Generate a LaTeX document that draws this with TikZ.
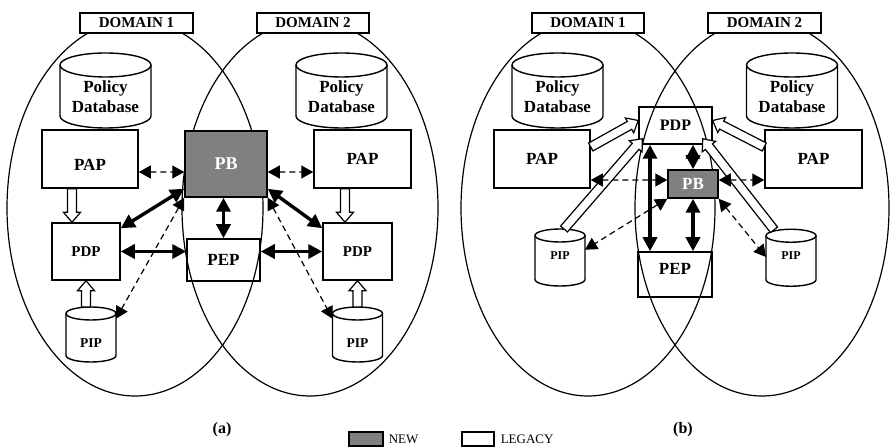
\documentclass[tikz,border=0pt]{standalone}
\usepackage{fontspec}
\setmainfont{Liberation Serif}
\usetikzlibrary{arrows.meta,calc,positioning}
\definecolor{pbgray}{RGB}{128,128,128}

% hollow (outlined) arrow from #1 to #2
\newcommand\hollowarrow[2]{%
  \coordinate (ha-s) at (#1);
  \coordinate (ha-e) at (#2);
  \coordinate (ha-n) at ($(ha-e)!10bp!(ha-s)$);
  \filldraw[hollowline] ($(ha-s)!4.5bp!90:(ha-e)$) -- ($(ha-n)!4.5bp!90:(ha-e)$)
    -- ($(ha-n)!8.5bp!90:(ha-e)$) -- (ha-e) -- ($(ha-n)!8.5bp!-90:(ha-e)$)
    -- ($(ha-n)!4.5bp!-90:(ha-e)$) -- ($(ha-s)!4.5bp!-90:(ha-e)$) -- cycle;
}
% cylinder drawn round a node: #1 node, #2 x radius, #3 y radius
\newcommand\drum[3]{%
  \draw[drumline] (#1.north west) -- ($(#1.south west)+(0,#3)$)
    arc[start angle=180,end angle=360,x radius=#2,y radius=#3]
    -- (#1.north east);
  \draw[drumline] (#1.north) ellipse [x radius=#2,y radius=#3];
}

\begin{document}
\begin{tikzpicture}[>={Triangle[length=14bp,width=14bp]},line join=miter,
  box/.style={draw,line width=1.5bp,inner sep=0pt,font=\bfseries\fontsize{17bp}{20bp}\selectfont},
  drumbox/.style={inner sep=0pt,outer sep=0pt,align=center,font=\bfseries\fontsize{17bp}{20bp}\selectfont},
  drumline/.style={line width=1.4bp},
  domline/.style={line width=1.2bp},
  domainbox/.style={draw,fill=white,line width=1.5bp,inner sep=0pt,minimum height=20bp,font=\bfseries\fontsize{15bp}{18bp}\selectfont},
  newbox/.style={box,fill=pbgray,text=white},
  hollowline/.style={line width=1.2bp,fill=white},
  thicklink/.style={line width=3.4bp,<->},
  dashlink/.style={line width=1.2bp,dash pattern=on 6bp off 4bp,<->,>={Triangle[length=12bp,width=13bp]}},
  keybox/.style={draw,line width=1.2bp,minimum width=33bp,minimum height=14bp,inner sep=0pt},
  keytext/.style={inner sep=0pt,font=\fontsize{13bp}{15bp}\selectfont},
  caption/.style={font=\bfseries\fontsize{16bp}{19bp}\selectfont},
]
\useasboundingbox (0bp,0bp) rectangle (890bp,448bp);
%%
%% (a)
  \draw[domline] (135bp,240bp) ellipse [x radius=128bp,y radius=188bp];
  \draw[domline] (310bp,240bp) ellipse [x radius=128bp,y radius=188bp];
  \node (domA1) at (136.5bp,425bp) [domainbox,minimum width=113bp] {DOMAIN 1};
  \node (domA2) at (313bp,425bp) [domainbox,minimum width=112bp] {DOMAIN 2};
  \node (polA1) at (105.5bp,351.5bp) [drumbox,minimum width=91bp,minimum height=63bp] {Policy\\Database};
  \node (polA2) at (341.5bp,351.5bp) [drumbox,minimum width=91bp,minimum height=63bp] {Policy\\Database};
  \drum{polA1}{45.5bp}{12bp}
  \drum{polA2}{45.5bp}{12bp}
  \node (papA1) at (90bp,289bp) [box,minimum width=96bp,minimum height=58bp,text height=23.5bp] {PAP};
  \node (papA2) at (362.5bp,289bp) [box,minimum width=97bp,minimum height=58bp] {PAP};
  \node (pbA) at (226bp,284bp) [newbox,minimum width=82bp,minimum height=66bp,font=\bfseries\fontsize{18bp}{20bp}\selectfont] {PB};
  \node (pdpA1) at (86bp,196.5bp) [box,minimum width=68bp,minimum height=57bp,font=\bfseries\fontsize{15bp}{18bp}\selectfont] {PDP};
  \node (pepA) at (223.5bp,188bp) [box,minimum width=73bp,minimum height=42bp] {PEP};
  \node (pdpA2) at (357.5bp,196.5bp) [box,minimum width=69bp,minimum height=57bp,font=\bfseries\fontsize{15bp}{18bp}\selectfont] {PDP};
  \node (pipA1) at (91bp,110.25bp) [drumbox,minimum width=50bp,minimum height=48.5bp,text height=20.5bp,font=\bfseries\fontsize{13.5bp}{16bp}\selectfont] {PIP};
  \node (pipA2) at (357.5bp,110.25bp) [drumbox,minimum width=50bp,minimum height=48.5bp,text height=20.5bp,font=\bfseries\fontsize{13.5bp}{16bp}\selectfont] {PIP};
  \drum{pipA1}{25bp}{6.5bp}
  \drum{pipA2}{25bp}{6.5bp}
  \hollowarrow{[xshift=-18bp]papA1.south}{[xshift=-14bp]pdpA1.north}
  \hollowarrow{[xshift=-17.5bp]papA2.south}{[xshift=-12.5bp]pdpA2.north}
  \hollowarrow{[xshift=-5bp,yshift=6.5bp]pipA1.north}{pdpA1.south}
  \hollowarrow{[yshift=6.5bp]pipA2.north}{pdpA2.south}
  \draw[dashlink] ([yshift=-13bp]papA1.east) -- ([yshift=-8bp]pbA.west);
  \draw[dashlink] ([yshift=-8bp]pbA.east) -- ([yshift=-13bp]papA2.west);
  \draw[thicklink] ([yshift=9bp]pbA.south west) -- ([yshift=-6bp]pdpA1.north east);
  \draw[thicklink] ([yshift=9bp]pbA.south east) -- ([yshift=-6bp]pdpA2.north west);
  \draw[thicklink] (pbA.south -| pepA.north) -- (pepA.north);
  \draw[thicklink] (pdpA1.east) -- (pdpA1.east -| pepA.west);
  \draw[thicklink] (pdpA2.west -| pepA.east) -- (pdpA2.west);
  \draw[dashlink] (pbA.south west) -- ([yshift=19bp]pipA1.east);
  \draw[dashlink] (pbA.south east) -- ([yshift=19bp]pipA2.west);
%%
%% (b)
  \draw[domline] (588bp,240bp) ellipse [x radius=127bp,y radius=188bp];
  \draw[domline] (762bp,240bp) ellipse [x radius=127bp,y radius=188bp];
  \node (domB1) at (588bp,425bp) [domainbox,minimum width=112bp] {DOMAIN 1};
  \node (domB2) at (764.5bp,425bp) [domainbox,minimum width=113bp] {DOMAIN 2};
  \node (polB1) at (557.5bp,351.5bp) [drumbox,minimum width=91bp,minimum height=63bp] {Policy\\Database};
  \node (polB2) at (792bp,351.5bp) [drumbox,minimum width=91bp,minimum height=63bp] {Policy\\Database};
  \drum{polB1}{45.5bp}{12bp}
  \drum{polB2}{45.5bp}{12bp}
  \node (papB1) at (542bp,289bp) [box,minimum width=96bp,minimum height=58bp] {PAP};
  \node (papB2) at (813.5bp,289bp) [box,minimum width=97bp,minimum height=58bp] {PAP};
  \node (pdpB) at (675.5bp,322.5bp) [box,minimum width=73bp,minimum height=37bp,font=\bfseries\fontsize{16bp}{18bp}\selectfont] {PDP};
  \node (pbB) at (693bp,264bp) [newbox,minimum width=50bp,minimum height=28bp] {PB};
  \node (pepB) at (675bp,173.5bp) [box,minimum width=74bp,minimum height=45bp,text depth=11bp] {PEP};
  \node (pipB1) at (560bp,187.25bp) [drumbox,minimum width=50bp,minimum height=50.5bp,text depth=11bp,font=\bfseries\fontsize{12bp}{14bp}\selectfont] {PIP};
  \node (pipB2) at (791bp,187bp) [drumbox,minimum width=50bp,minimum height=50.5bp,text depth=11bp,font=\bfseries\fontsize{12bp}{14bp}\selectfont] {PIP};
  \drum{pipB1}{25bp}{6.5bp}
  \drum{pipB2}{25bp}{6.5bp}
  \hollowarrow{[yshift=12bp]papB1.east}{[yshift=5bp]pdpB.west}
  \hollowarrow{[xshift=4bp,yshift=6.5bp]pipB1.north}{[xshift=4bp,yshift=6bp]pdpB.south west}
  \hollowarrow{[yshift=12bp]papB2.west}{[yshift=5bp]pdpB.east}
  \hollowarrow{[xshift=-17bp,yshift=6bp]pipB2.north}{[xshift=-10bp,yshift=6bp]pdpB.south east}
  \draw[thicklink] ([xshift=-25.5bp]pdpB.south) -- ([xshift=-25bp]pepB.north);
  \draw[thicklink] (pdpB.south -| pbB.north) -- (pbB.north);
  \draw[thicklink] (pbB.south) -- (pbB.south |- pepB.north);
  \draw[dashlink] ([yshift=-21bp]papB1.east) -- ([yshift=4bp]pbB.west);
  \draw[dashlink] ([yshift=4bp]pbB.east) -- ([yshift=-21bp]papB2.west);
  \draw[dashlink] (pbB.south west) -- ([yshift=11bp]pipB1.east);
  \draw[dashlink] (pbB.south east) -- ([yshift=4bp]pipB2.west);
%%
%% captions and key
  \node (capA) at (222bp,18bp) [caption] {(a)};
  \node (capB) at (683bp,18bp) [caption] {(b)};
  \node (newkey) at (366bp,9bp) [keybox,fill=pbgray,minimum width=34bp] {};
  \node (newtext) [keytext,right=5bp of newkey] {NEW};
  \node (legkey) at (478bp,9bp) [keybox,minimum width=32bp] {};
  \node (legtext) [keytext,right=6bp of legkey] {LEGACY};
%
\end{tikzpicture}
\end{document}
